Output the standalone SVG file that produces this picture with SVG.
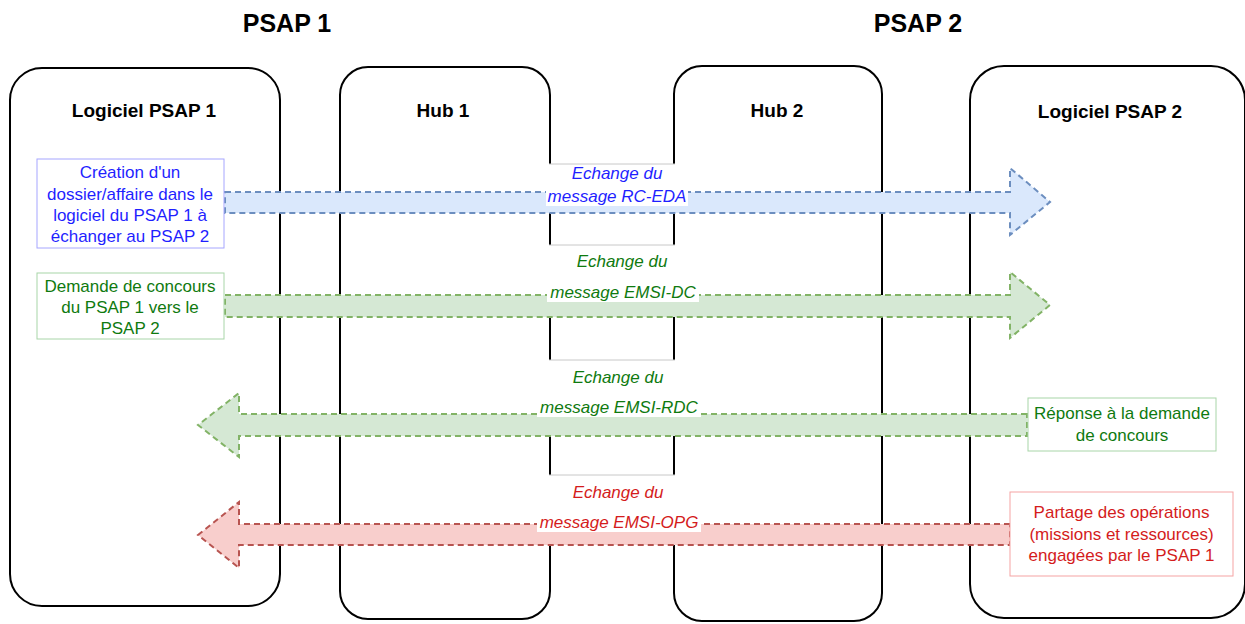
<svg xmlns="http://www.w3.org/2000/svg" width="1245" height="624" viewBox="0 0 1245 624">
<style>
text{font-family:"Liberation Sans",Arial,sans-serif}
.title{font-size:25px;font-weight:bold;fill:#000;text-anchor:middle}
.head{font-size:19px;font-weight:bold;fill:#000;text-anchor:middle}
.cont{fill:#fff;stroke:#000;stroke-width:2}
.body{font-size:17px;text-anchor:middle}
.lab{font-size:17px;font-style:italic;text-anchor:middle}
.arr{stroke-width:2;stroke-dasharray:6 4}
.blue{fill:#1f1fff}.green{fill:#0f7a0f}.red{fill:#d41c1c}
.mask{fill:#fff}
.edge{stroke:#c8c8c8;stroke-width:1}
</style>
<rect width="1245" height="624" fill="#fff"/>
<text class="title" x="287" y="32">PSAP 1</text>
<text class="title" x="918" y="32">PSAP 2</text>
<g id="logiciel1"><rect class="cont" x="10" y="68" width="270" height="538" rx="32" ry="32"/><text class="head" x="144" y="117">Logiciel PSAP 1</text></g>
<g id="hub1"><rect class="cont" x="340" y="67" width="210" height="552" rx="28" ry="28"/><text class="head" x="443" y="117">Hub 1</text></g>
<g id="hub2"><rect class="cont" x="674" y="66" width="208" height="555" rx="28" ry="28"/><text class="head" x="777" y="117">Hub 2</text></g>
<g id="logiciel2"><rect class="cont" x="970" y="66" width="275" height="552" rx="34" ry="34"/><text class="head" x="1110" y="118">Logiciel PSAP 2</text></g>
<g id="connectors">
<rect class="mask" x="548" y="164" width="128" height="42"/><line class="edge" x1="549" y1="164" x2="675" y2="164"/>
<rect class="mask" x="548" y="245" width="128" height="60"/><line class="edge" x1="549" y1="245" x2="675" y2="245"/>
<rect class="mask" x="548" y="360" width="128" height="65"/><line class="edge" x1="549" y1="360" x2="675" y2="360"/>
<rect class="mask" x="548" y="475" width="128" height="60"/><line class="edge" x1="549" y1="475" x2="675" y2="475"/>
<path id="a1" class="arr" fill="#dae8fc" stroke="#6c8ebf" d="M225,192 L1010,192 L1010,168 L1050,202 L1010,235 L1010,213 L225,213 Z"/>
<path id="a2" class="arr" fill="#d5e8d4" stroke="#82b366" d="M225,295 L1010,295 L1010,272 L1050,305 L1010,338 L1010,317 L225,317 Z"/>
<path id="a3" class="arr" fill="#d5e8d4" stroke="#82b366" d="M1027,414 L239,414 L239,393 L198,425 L239,457 L239,436 L1027,436 Z"/>
<path id="a4" class="arr" fill="#f8cecc" stroke="#b85450" d="M1010,524 L239,524 L239,502 L198,535 L239,568 L239,545 L1010,545 Z"/>
<rect class="mask" x="546" y="186" width="142" height="20"/>
<rect class="mask" x="547" y="282" width="152" height="20"/>
<rect class="mask" x="537" y="397" width="164" height="20"/>
<rect class="mask" x="537" y="512" width="164" height="20"/>
<text class="lab blue" x="617" y="179">Echange du</text>
<text class="lab blue" x="617" y="202">message RC-EDA</text>
<text class="lab green" x="622" y="267">Echange du</text>
<text class="lab green" x="623" y="298">message EMSI-DC</text>
<text class="lab green" x="618" y="383">Echange du</text>
<text class="lab green" x="619" y="413">message EMSI-RDC</text>
<text class="lab red" x="618" y="498">Echange du</text>
<text class="lab red" x="619" y="528">message EMSI-OPG</text>
</g>
<g id="creation"><rect x="37" y="159" width="187" height="89" fill="#fff" stroke="#a6a6ff" stroke-width="1"/>
<text class="body blue" x="130" y="178">Création d'un</text><text class="body blue" x="130" y="199.5">dossier/affaire dans le</text><text class="body blue" x="130" y="221">logiciel du PSAP 1 à</text><text class="body blue" x="130" y="242">échanger au PSAP 2</text></g>
<g id="demande"><rect x="37" y="273" width="187" height="66" fill="#fff" stroke="#a8d5a8" stroke-width="1"/>
<text class="body green" x="130" y="291.5">Demande de concours</text><text class="body green" x="130" y="313">du PSAP 1 vers le</text><text class="body green" x="130" y="334">PSAP 2</text></g>
<g id="reponse"><rect x="1028" y="398" width="188" height="53" fill="#fff" stroke="#a8d5a8" stroke-width="1"/>
<text class="body green" x="1122" y="419">Réponse à la demande</text><text class="body green" x="1122" y="441">de concours</text></g>
<g id="partage"><rect x="1010" y="492" width="223" height="84" fill="#fff" stroke="#f5a3a3" stroke-width="1"/>
<text class="body red" x="1121.5" y="518">Partage des opérations</text><text class="body red" x="1121.5" y="539.5">(missions et ressources)</text><text class="body red" x="1121.5" y="561">engagées par le PSAP 1</text></g>
</svg>
